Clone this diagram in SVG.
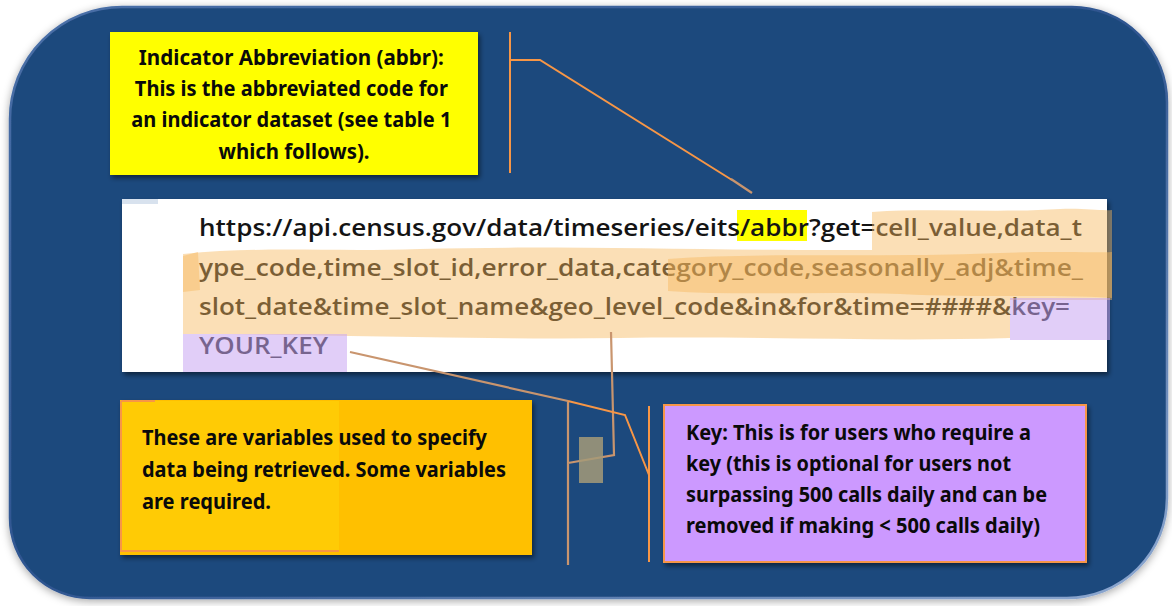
<svg xmlns="http://www.w3.org/2000/svg" width="1172" height="606" viewBox="0 0 1172 606">
<style>
.lbl{font-family:"Noto Sans","Liberation Sans",sans-serif;font-weight:700;font-size:20.5px;fill:#0a0a0a}
.url{font-family:"Open Sans","Noto Sans","Liberation Sans",sans-serif;font-weight:600;font-size:23px;fill:#141414}
.con{fill:none;stroke:#F79646;stroke-width:2}
.con2{fill:none;stroke:#C9956E;stroke-width:2.2}
.hlo{fill:#F7B75E;fill-opacity:0.45}
.hlp{fill:#C9A6F2;fill-opacity:0.55}
</style>
<defs>
<filter id="sh" x="-5%" y="-5%" width="112%" height="120%">
<feDropShadow dx="2" dy="3" stdDeviation="2.5" flood-color="#000" flood-opacity="0.5"/>
</filter>
<filter id="psh" x="-3%" y="-3%" width="106%" height="108%">
<feDropShadow dx="0" dy="2" stdDeviation="4" flood-color="#000" flood-opacity="0.35"/>
</filter>
<linearGradient id="bev" x1="0" y1="0" x2="1" y2="1">
<stop offset="0" stop-color="#4A70A8"/>
<stop offset="0.5" stop-color="#2E5590"/>
<stop offset="1" stop-color="#8FAAD2"/>
</linearGradient>
</defs>
<rect width="1172" height="606" fill="#ffffff"/>
<g id="panel">
<path d="M122,7 H1072 A95,95 0 0 1 1167,102 V498 A100,100 0 0 1 1067,598 H90 A80,80 0 0 1 10,518 V119 A112,112 0 0 1 122,7 Z" fill="#1F497D" stroke="url(#bev)" stroke-width="2.5" filter="url(#psh)"/>
</g>
<g id="node-abbr">
<rect x="110" y="32" width="368" height="143" fill="#FFFF00" filter="url(#sh)"/>
<text class="lbl" text-anchor="middle">
<tspan x="294" y="65" textLength="305" lengthAdjust="spacingAndGlyphs">Indicator Abbreviation (abbr):</tspan>
<tspan x="294" y="96" textLength="313" lengthAdjust="spacingAndGlyphs">This is the abbreviated code for</tspan>
<tspan x="294" y="127" textLength="320" lengthAdjust="spacingAndGlyphs">an indicator dataset (see table 1</tspan>
<tspan x="294" y="159" textLength="151" lengthAdjust="spacingAndGlyphs">which follows).</tspan>
</text>
</g>
<g id="node-url">
<rect x="122" y="199" width="985" height="173" fill="#ffffff" filter="url(#sh)"/>
<rect x="122" y="199" width="36" height="5" fill="#D8E2EE"/>
<rect x="737" y="210" width="70" height="31" fill="#FFFF00"/>
<text class="url">
<tspan x="199" y="236" textLength="883" lengthAdjust="spacingAndGlyphs">https://api.census.gov/data/timeseries/eits/abbr?get=cell_value,data_t</tspan>
<tspan x="199" y="276" textLength="884" lengthAdjust="spacingAndGlyphs">ype_code,time_slot_id,error_data,category_code,seasonally_adj&amp;time_</tspan>
<tspan x="199" y="315" textLength="871" lengthAdjust="spacingAndGlyphs">slot_date&amp;time_slot_name&amp;geo_level_code&amp;in&amp;for&amp;time=####&amp;key=</tspan>
<tspan x="199" y="354" textLength="129" lengthAdjust="spacingAndGlyphs">YOUR_KEY</tspan>
</text>
<path class="hlo" d="M872,212 C930,208 1000,213 1060,209 C1085,208 1100,211 1112,210 L1112,250 L872,250 Z"/>
<path class="hlo" d="M183,254 C260,246 330,252 420,249 C560,245 700,251 872,250 L1112,250 L1112,300 L1010,300 L1010,338 C880,342 760,336 620,338 C480,340 330,334 183,334 Z"/>
<path class="hlo" d="M668,259 C760,252 880,258 1000,253 C1050,251 1090,253 1112,252 L1112,298 C1050,294 980,298 900,294 C820,291 740,296 668,291 Z"/>
<path class="hlo" d="M183,256 L198,252 L200,290 L183,292 Z"/>
<path class="hlp" d="M183,334 L347,334 L347,372 L183,372 Z"/>
<path class="hlp" d="M1010,298 L1110,298 L1110,340 L1010,340 Z"/>
</g>
<g id="node-vars">
<rect x="120" y="400" width="412" height="155" fill="#FFC000" filter="url(#sh)"/>
<rect x="121" y="401" width="218" height="150" fill="#FFCB05"/>
<path d="M121,401 H155 M121,401 V551 H339" fill="none" stroke="#F79646" stroke-width="2"/>
<text class="lbl">
<tspan x="142" y="445" textLength="345" lengthAdjust="spacingAndGlyphs">These are variables used to specify</tspan>
<tspan x="142" y="477" textLength="364" lengthAdjust="spacingAndGlyphs">data being retrieved. Some variables</tspan>
<tspan x="142" y="509" textLength="129" lengthAdjust="spacingAndGlyphs">are required.</tspan>
</text>
</g>
<g id="node-key">
<rect x="664" y="405" width="422" height="157" fill="#CC99FF" stroke="#F79646" stroke-width="2" filter="url(#sh)"/>
<text class="lbl">
<tspan x="686" y="440" textLength="345" lengthAdjust="spacingAndGlyphs">Key: This is for users who require a</tspan>
<tspan x="686" y="471" textLength="325" lengthAdjust="spacingAndGlyphs">key (this is optional for users not</tspan>
<tspan x="686" y="502" textLength="361" lengthAdjust="spacingAndGlyphs">surpassing 500 calls daily and can be</tspan>
<tspan x="686" y="533" textLength="354" lengthAdjust="spacingAndGlyphs">removed if making &lt; 500 calls daily)</tspan>
</text>
</g>
<g id="connectors">
<path class="con" d="M510,32 V173 M510,60 H540 L732,180"/>
<path class="con2" d="M731,179 L752,193"/>
<path class="con2" d="M350,352 L568,401 M611,332 L614,455 L568,463 M568,401 V565"/>
<path class="con" d="M568,401 L625,415 L649,475 M649,406 V562"/>
<rect x="579" y="437" width="24" height="46" fill="#A59A78" fill-opacity="0.85"/>
</g>
</svg>
